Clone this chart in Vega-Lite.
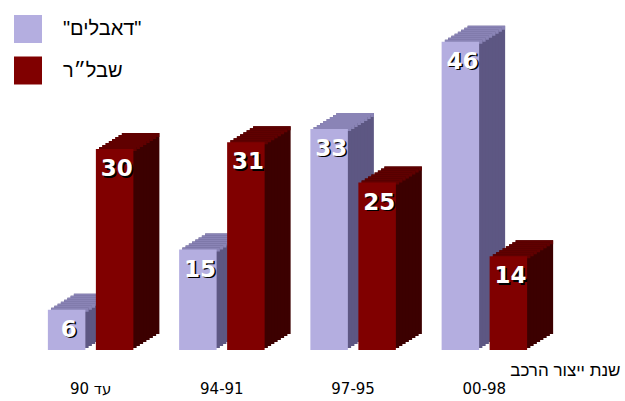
{
  "$schema": "https://vega.github.io/schema/vega-lite/v6.json",
  "width": 525,
  "height": 335,
  "autosize": {"type": "none"},
  "padding": {"left": 25, "top": 15, "right": 75, "bottom": 51},
  "background": "white",
  "config": {"view": {"stroke": null}},
  "data": {"values": [
    {"g": "\u200E90 עד", "s": "\"דאבלים\"", "v": 6},
    {"g": "\u200E90 עד", "s": "שבל״ר", "v": 30},
    {"g": "94-91", "s": "\"דאבלים\"", "v": 15},
    {"g": "94-91", "s": "שבל״ר", "v": 31},
    {"g": "97-95", "s": "\"דאבלים\"", "v": 33},
    {"g": "97-95", "s": "שבל״ר", "v": 25},
    {"g": "00-98", "s": "\"דאבלים\"", "v": 46},
    {"g": "00-98", "s": "שבל״ר", "v": 14}
  ]},
  "encoding": {
    "x": {"field": "g", "type": "nominal", "sort": ["\u200E90 עד", "94-91", "97-95", "00-98"],
      "scale": {"paddingInner": 0, "paddingOuter": 0},
      "axis": {"title": "שנת ייצור הרכב", "titleX": 595, "titleY": 25, "titleAlign": "right", "titleAnchor": null,
        "titleBaseline": "alphabetic", "titleFont": "Liberation Sans", "titleFontSize": 17, "titleFontWeight": "normal", "titleColor": "#000",
        "labelFont": "DejaVu Sans", "labelFontSize": 15, "labelColor": "#000", "labelAngle": 0, "labelPadding": 43, "labelBaseline": "alphabetic",
        "domain": false, "ticks": false, "tickSize": 0, "grid": false}},
    "y": {"field": "v", "type": "quantitative", "stack": null, "scale": {"domain": [0, 50], "nice": false, "zero": true}, "axis": null}
  },
  "layer": [
    {"transform": [{"filter": "datum.s != 'שבל״ר'"}], "mark": {"type": "bar", "width": 37.5, "color": "#5D5783", "xOffset": 2, "yOffset": -16, "y2Offset": -16}, "encoding": {"y2": {"datum": 0}}},
    {"transform": [{"filter": "datum.s != 'שבל״ר'"}], "mark": {"type": "bar", "width": 37.5, "color": "#8A84B6", "xOffset": 2, "yOffset": -16, "y2Offset": -12}, "encoding": {"y2": {"field": "v"}}},
    {"transform": [{"filter": "datum.s == 'שבל״ר'"}], "mark": {"type": "bar", "width": 37.5, "color": "#3C0000", "xOffset": 50, "yOffset": -16, "y2Offset": -16}, "encoding": {"y2": {"datum": 0}}},
    {"transform": [{"filter": "datum.s == 'שבל״ר'"}], "mark": {"type": "bar", "width": 37.5, "color": "#600000", "xOffset": 50, "yOffset": -16, "y2Offset": -12}, "encoding": {"y2": {"field": "v"}}},

    {"transform": [{"filter": "datum.s != 'שבל״ר'"}], "mark": {"type": "bar", "width": 37.5, "color": "#5D5783", "xOffset": -1.25, "yOffset": -14, "y2Offset": -14}, "encoding": {"y2": {"datum": 0}}},
    {"transform": [{"filter": "datum.s != 'שבל״ר'"}], "mark": {"type": "bar", "width": 37.5, "color": "#8A84B6", "xOffset": -1.25, "yOffset": -14, "y2Offset": -10}, "encoding": {"y2": {"field": "v"}}},
    {"transform": [{"filter": "datum.s == 'שבל״ר'"}], "mark": {"type": "bar", "width": 37.5, "color": "#3C0000", "xOffset": 46.75, "yOffset": -14, "y2Offset": -14}, "encoding": {"y2": {"datum": 0}}},
    {"transform": [{"filter": "datum.s == 'שבל״ר'"}], "mark": {"type": "bar", "width": 37.5, "color": "#600000", "xOffset": 46.75, "yOffset": -14, "y2Offset": -10}, "encoding": {"y2": {"field": "v"}}},

    {"transform": [{"filter": "datum.s != 'שבל״ר'"}], "mark": {"type": "bar", "width": 37.5, "color": "#5D5783", "xOffset": -4.5, "yOffset": -12, "y2Offset": -12}, "encoding": {"y2": {"datum": 0}}},
    {"transform": [{"filter": "datum.s != 'שבל״ר'"}], "mark": {"type": "bar", "width": 37.5, "color": "#8A84B6", "xOffset": -4.5, "yOffset": -12, "y2Offset": -8}, "encoding": {"y2": {"field": "v"}}},
    {"transform": [{"filter": "datum.s == 'שבל״ר'"}], "mark": {"type": "bar", "width": 37.5, "color": "#3C0000", "xOffset": 43.5, "yOffset": -12, "y2Offset": -12}, "encoding": {"y2": {"datum": 0}}},
    {"transform": [{"filter": "datum.s == 'שבל״ר'"}], "mark": {"type": "bar", "width": 37.5, "color": "#600000", "xOffset": 43.5, "yOffset": -12, "y2Offset": -8}, "encoding": {"y2": {"field": "v"}}},

    {"transform": [{"filter": "datum.s != 'שבל״ר'"}], "mark": {"type": "bar", "width": 37.5, "color": "#5D5783", "xOffset": -7.75, "yOffset": -10, "y2Offset": -10}, "encoding": {"y2": {"datum": 0}}},
    {"transform": [{"filter": "datum.s != 'שבל״ר'"}], "mark": {"type": "bar", "width": 37.5, "color": "#8A84B6", "xOffset": -7.75, "yOffset": -10, "y2Offset": -6}, "encoding": {"y2": {"field": "v"}}},
    {"transform": [{"filter": "datum.s == 'שבל״ר'"}], "mark": {"type": "bar", "width": 37.5, "color": "#3C0000", "xOffset": 40.25, "yOffset": -10, "y2Offset": -10}, "encoding": {"y2": {"datum": 0}}},
    {"transform": [{"filter": "datum.s == 'שבל״ר'"}], "mark": {"type": "bar", "width": 37.5, "color": "#600000", "xOffset": 40.25, "yOffset": -10, "y2Offset": -6}, "encoding": {"y2": {"field": "v"}}},

    {"transform": [{"filter": "datum.s != 'שבל״ר'"}], "mark": {"type": "bar", "width": 37.5, "color": "#5D5783", "xOffset": -11, "yOffset": -8, "y2Offset": -8}, "encoding": {"y2": {"datum": 0}}},
    {"transform": [{"filter": "datum.s != 'שבל״ר'"}], "mark": {"type": "bar", "width": 37.5, "color": "#8A84B6", "xOffset": -11, "yOffset": -8, "y2Offset": -4}, "encoding": {"y2": {"field": "v"}}},
    {"transform": [{"filter": "datum.s == 'שבל״ר'"}], "mark": {"type": "bar", "width": 37.5, "color": "#3C0000", "xOffset": 37, "yOffset": -8, "y2Offset": -8}, "encoding": {"y2": {"datum": 0}}},
    {"transform": [{"filter": "datum.s == 'שבל״ר'"}], "mark": {"type": "bar", "width": 37.5, "color": "#600000", "xOffset": 37, "yOffset": -8, "y2Offset": -4}, "encoding": {"y2": {"field": "v"}}},

    {"transform": [{"filter": "datum.s != 'שבל״ר'"}], "mark": {"type": "bar", "width": 37.5, "color": "#5D5783", "xOffset": -14.25, "yOffset": -6, "y2Offset": -6}, "encoding": {"y2": {"datum": 0}}},
    {"transform": [{"filter": "datum.s != 'שבל״ר'"}], "mark": {"type": "bar", "width": 37.5, "color": "#8A84B6", "xOffset": -14.25, "yOffset": -6, "y2Offset": -2}, "encoding": {"y2": {"field": "v"}}},
    {"transform": [{"filter": "datum.s == 'שבל״ר'"}], "mark": {"type": "bar", "width": 37.5, "color": "#3C0000", "xOffset": 33.75, "yOffset": -6, "y2Offset": -6}, "encoding": {"y2": {"datum": 0}}},
    {"transform": [{"filter": "datum.s == 'שבל״ר'"}], "mark": {"type": "bar", "width": 37.5, "color": "#600000", "xOffset": 33.75, "yOffset": -6, "y2Offset": -2}, "encoding": {"y2": {"field": "v"}}},

    {"transform": [{"filter": "datum.s != 'שבל״ר'"}], "mark": {"type": "bar", "width": 37.5, "color": "#5D5783", "xOffset": -17.5, "yOffset": -4, "y2Offset": -4}, "encoding": {"y2": {"datum": 0}}},
    {"transform": [{"filter": "datum.s != 'שבל״ר'"}], "mark": {"type": "bar", "width": 37.5, "color": "#8A84B6", "xOffset": -17.5, "yOffset": -4, "y2Offset": 0}, "encoding": {"y2": {"field": "v"}}},
    {"transform": [{"filter": "datum.s == 'שבל״ר'"}], "mark": {"type": "bar", "width": 37.5, "color": "#3C0000", "xOffset": 30.5, "yOffset": -4, "y2Offset": -4}, "encoding": {"y2": {"datum": 0}}},
    {"transform": [{"filter": "datum.s == 'שבל״ר'"}], "mark": {"type": "bar", "width": 37.5, "color": "#600000", "xOffset": 30.5, "yOffset": -4, "y2Offset": 0}, "encoding": {"y2": {"field": "v"}}},

    {"transform": [{"filter": "datum.s != 'שבל״ר'"}], "mark": {"type": "bar", "width": 37.5, "color": "#5D5783", "xOffset": -20.75, "yOffset": -2, "y2Offset": -2}, "encoding": {"y2": {"datum": 0}}},
    {"transform": [{"filter": "datum.s != 'שבל״ר'"}], "mark": {"type": "bar", "width": 37.5, "color": "#8A84B6", "xOffset": -20.75, "yOffset": -2, "y2Offset": 2}, "encoding": {"y2": {"field": "v"}}},
    {"transform": [{"filter": "datum.s == 'שבל״ר'"}], "mark": {"type": "bar", "width": 37.5, "color": "#3C0000", "xOffset": 27.25, "yOffset": -2, "y2Offset": -2}, "encoding": {"y2": {"datum": 0}}},
    {"transform": [{"filter": "datum.s == 'שבל״ר'"}], "mark": {"type": "bar", "width": 37.5, "color": "#600000", "xOffset": 27.25, "yOffset": -2, "y2Offset": 2}, "encoding": {"y2": {"field": "v"}}},

    {"transform": [{"filter": "datum.s != 'שבל״ר'"}], "mark": {"type": "bar", "width": 37.5, "xOffset": -24},
      "encoding": {"y2": {"datum": 0}, "color": {"field": "s", "type": "nominal",
        "scale": {"domain": ["\"דאבלים\"", "שבל״ר"], "range": ["#B4AEE0", "#800000"]},
        "legend": {"title": null, "orient": "none", "legendX": -11, "legendY": 0, "padding": 0,
          "symbolType": "square", "symbolSize": 784, "symbolStrokeWidth": 0, "symbolOpacity": 1,
          "labelFont": "Liberation Sans", "labelFontSize": 20, "labelColor": "#000", "labelOffset": 21, "rowPadding": 13.5}}}},
    {"transform": [{"filter": "datum.s == 'שבל״ר'"}], "mark": {"type": "bar", "width": 37.5, "xOffset": 24},
      "encoding": {"y2": {"datum": 0}, "color": {"field": "s", "type": "nominal",
        "scale": {"domain": ["\"דאבלים\"", "שבל״ר"], "range": ["#B4AEE0", "#800000"]}}}},

    {"transform": [{"filter": "datum.s != 'שבל״ר'"}], "mark": {"type": "text", "font": "DejaVu Sans", "fontWeight": "bold", "fontSize": 23, "color": "#000", "align": "center", "baseline": "alphabetic", "dx": -20.5, "dy": 28.5},
      "encoding": {"text": {"field": "v", "type": "quantitative"}}},
    {"transform": [{"filter": "datum.s != 'שבל״ר'"}], "mark": {"type": "text", "font": "DejaVu Sans", "fontWeight": "bold", "fontSize": 23, "color": "#FFFFFF", "align": "center", "baseline": "alphabetic", "dx": -22, "dy": 27},
      "encoding": {"text": {"field": "v", "type": "quantitative"}}},
    {"transform": [{"filter": "datum.s == 'שבל״ר'"}], "mark": {"type": "text", "font": "DejaVu Sans", "fontWeight": "bold", "fontSize": 23, "color": "#000", "align": "center", "baseline": "alphabetic", "dx": 27.5, "dy": 28.5},
      "encoding": {"text": {"field": "v", "type": "quantitative"}}},
    {"transform": [{"filter": "datum.s == 'שבל״ר'"}], "mark": {"type": "text", "font": "DejaVu Sans", "fontWeight": "bold", "fontSize": 23, "color": "#FFFFFF", "align": "center", "baseline": "alphabetic", "dx": 26, "dy": 27},
      "encoding": {"text": {"field": "v", "type": "quantitative"}}}
  ]
}
